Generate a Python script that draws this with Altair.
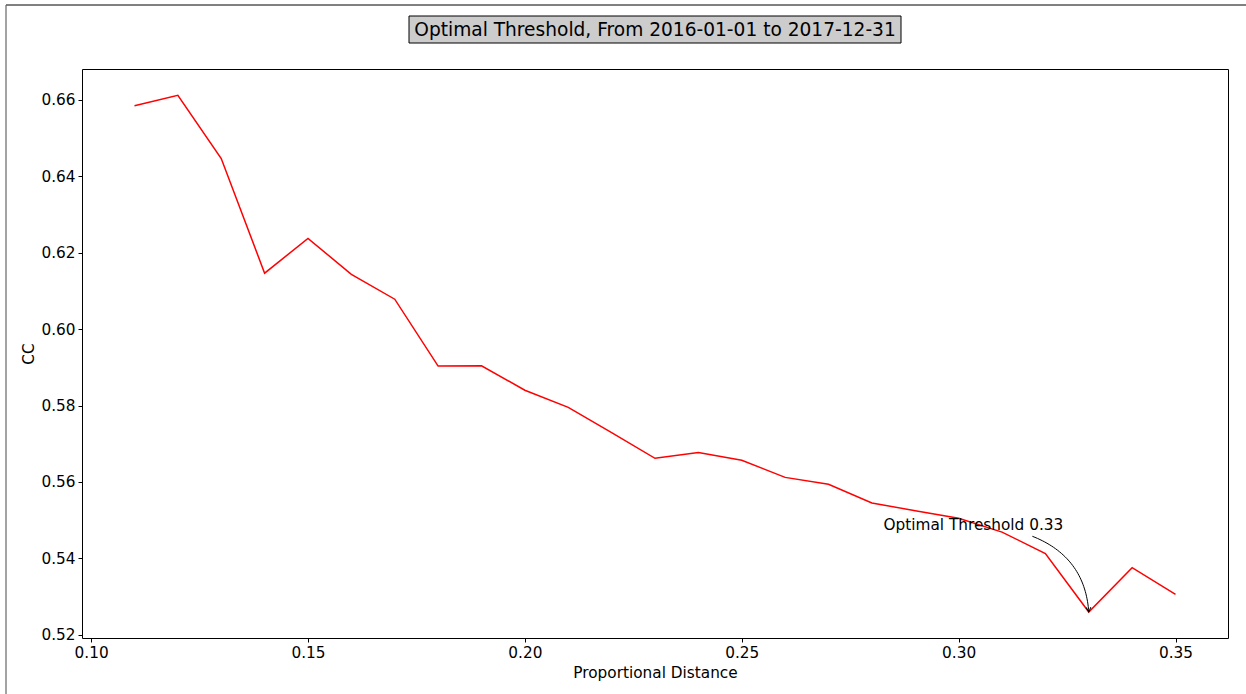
import altair as alt
import pandas as pd

# Proportional distance thresholds and the resulting CC values
dist = [0.11, 0.12, 0.13, 0.14, 0.15, 0.16, 0.17, 0.18, 0.19, 0.20, 0.21, 0.22,
        0.23, 0.24, 0.25, 0.26, 0.27, 0.28, 0.29, 0.30, 0.31, 0.32, 0.33, 0.34, 0.35]
cc = [0.6584, 0.6611, 0.6446, 0.6146, 0.6237, 0.6143, 0.6078, 0.5903, 0.5904,
      0.5840, 0.5795, 0.5729, 0.5662, 0.5677, 0.5657, 0.5612, 0.5594, 0.5545,
      0.5525, 0.5505, 0.5469, 0.5413, 0.5260, 0.5376, 0.5306]

x_ticks = [0.10, 0.15, 0.20, 0.25, 0.30, 0.35]
y_ticks = [0.52, 0.54, 0.56, 0.58, 0.60, 0.62, 0.64, 0.66]
x_domain = [0.0979, 0.3621]
y_domain = [0.5192, 0.6680]

title_text = "Optimal Threshold, From 2016-01-01 to 2017-12-31"

# optimal threshold = distance with the lowest CC
best_i = min(range(len(cc)), key=lambda i: cc[i])
best_x, best_y = dist[best_i], cc[best_i]
label_text = f"Optimal Threshold {best_x:.2f}"

# annotation placement (data units): label centre, arrow tail, bend point
label_pos = (0.3034, 0.5487)
arrow_tail = (0.3170, 0.5458)
arrow_bend = (0.3291, 0.5404)

FONT = "DejaVu Sans"
FS = 15.3
W, H = 1146, 569

df = pd.DataFrame({"dist": dist, "cc": cc})

xs = alt.Scale(domain=x_domain, nice=False, zero=False)
ys = alt.Scale(domain=y_domain, nice=False, zero=False)

line = alt.Chart(df).mark_line(color="red", strokeWidth=1.5).encode(
    x=alt.X("dist:Q", scale=xs,
            axis=alt.Axis(title="Proportional Distance", values=x_ticks, format=".2f",
                          titleX=W / 2, titleY=34, titleBaseline="middle")),
    y=alt.Y("cc:Q", scale=ys,
            axis=alt.Axis(title="CC", values=y_ticks, format=".2f",
                          titleX=-54, titleY=H / 2, titleAngle=270,
                          titleBaseline="middle", titleAlign="center")),
)

# curved annotation arrow (quadratic Bezier)
n = 40
curve = []
for k in range(n + 1):
    t = k / n
    a, b, c = (1 - t) ** 2, 2 * (1 - t) * t, t ** 2
    curve.append({
        "t": t,
        "dist": a * arrow_tail[0] + b * arrow_bend[0] + c * best_x,
        "cc": a * arrow_tail[1] + b * arrow_bend[1] + c * best_y,
    })
arrow = alt.Chart(pd.DataFrame(curve)).mark_line(color="black", strokeWidth=1).encode(
    x=alt.X("dist:Q", scale=xs), y=alt.Y("cc:Q", scale=ys), order="t:Q"
)
head = alt.Chart(pd.DataFrame({"dist": [best_x], "cc": [best_y]})).mark_point(
    shape="M -0.5 -1 L 0 0 L 0.5 -1", filled=False, stroke="black",
    strokeWidth=1, size=90, angle=357, opacity=1
).encode(x=alt.X("dist:Q", scale=xs), y=alt.Y("cc:Q", scale=ys))

label = alt.Chart(pd.DataFrame({"dist": [label_pos[0]], "cc": [label_pos[1]],
                                "txt": [label_text]})).mark_text(
    font=FONT, fontSize=FS, color="black", align="center", baseline="middle"
).encode(x=alt.X("dist:Q", scale=xs), y=alt.Y("cc:Q", scale=ys), text="txt:N")

# boxed title above the plot
one = pd.DataFrame({"txt": [title_text]})
title_box = alt.Chart(one).mark_rect(fill="#cccccc", stroke="black", strokeWidth=1).encode(
    x=alt.value(327), x2=alt.value(819), y=alt.value(-53), y2=alt.value(-26)
)
title_txt = alt.Chart(one).mark_text(
    font=FONT, fontSize=18.6, color="black", align="center", baseline="middle"
).encode(x=alt.value(W / 2), y=alt.value(-39.5), text="txt:N")

# figure frame edges
frame_top = alt.Chart(one).mark_rule(color="black", strokeWidth=1).encode(
    x=alt.value(-76), x2=alt.value(1200), y=alt.value(-64)
)
frame_left = alt.Chart(one).mark_rule(color="#666666", strokeWidth=1.2).encode(
    x=alt.value(-76), y=alt.value(-64), y2=alt.value(660)
)

chart = alt.layer(
    line, arrow, head, label, title_box, title_txt, frame_top, frame_left
).properties(
    width=W, height=H,
    autosize=alt.AutoSizeParams(type="none"),
    padding={"left": 82, "top": 69, "right": 18, "bottom": 56},
    background="white",
).configure_view(
    stroke="black", strokeWidth=1
).configure_axis(
    grid=False, domain=False, tickColor="black", tickSize=4, tickWidth=1,
    labelFont=FONT, labelFontSize=FS, labelColor="black", labelPadding=3,
    titleFont=FONT, titleFontSize=FS, titleColor="black", titleFontWeight="normal",
)

chart.save("out.html", embed_options={"renderer": "svg", "actions": False})
